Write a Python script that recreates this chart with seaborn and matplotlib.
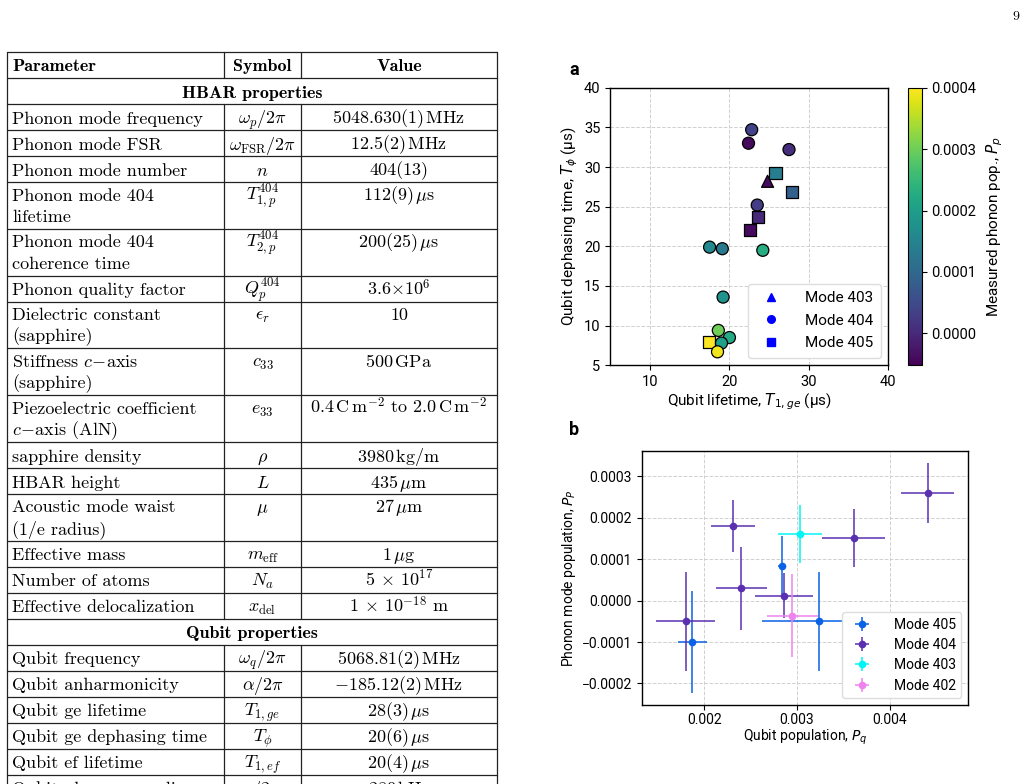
import numpy as np
import pandas as pd
import matplotlib
matplotlib.use("Agg")
import matplotlib.pyplot as plt
import seaborn as sns
from matplotlib.lines import Line2D
from matplotlib.colors import Normalize
from matplotlib.ticker import FuncFormatter, FixedLocator

# ---------------- Panel a data ----------------
t1_ge = [22.8, 22.4, 27.5, 25.8, 24.8, 27.9, 23.5, 23.6, 22.6, 17.5, 19.1, 24.2, 19.2, 18.6, 20.0, 17.4, 19.0, 18.5]
t_phi = [34.7, 33.0, 32.2, 29.3, 28.2, 26.8, 25.2, 23.7, 22.0, 19.9, 19.7, 19.5, 13.6, 9.4, 8.5, 7.9, 7.8, 6.7]
phonon_pop_a = [0.000038, -0.000040, 0.000007, 0.000140, -0.000038, 0.000084, 0.000030, 0.000000, -0.000038,
                0.000160, 0.000130, 0.000230, 0.000180, 0.000300, 0.000220, 0.000400, 0.000200, 0.000390]
mode_a = [404, 404, 404, 405, 403, 405, 404, 405, 405, 404, 404, 404, 404, 404, 404, 405, 404, 404]
legend_modes_a = [403, 404, 405]

# ---------------- Panel b data ----------------
mode_b = [405, 405, 405, 404, 404, 404, 404, 404, 404, 403, 402]
qubit_pop = [0.00187, 0.00284, 0.00324, 0.00180, 0.00231, 0.00240, 0.00286, 0.00361, 0.00441, 0.00303, 0.00295]
qubit_pop_err = [0.000157, 0.000045, 0.000613, 0.000317, 0.000236, 0.000279, 0.000310, 0.000342, 0.000284, 0.000237, 0.000279]
phonon_pop_b = [-0.000100, 0.0000844, -0.000050, -0.000050, 0.000180, 0.000030, 0.000012, 0.000150, 0.000260, 0.000160, -0.000037]
phonon_pop_b_err = [0.000124, 0.000071, 0.000119, 0.000119, 0.0000627, 0.000100, 0.000054, 0.000070, 0.0000727, 0.000070, 0.000100]
mode_order_b = [405, 404, 403, 402]
mode_colors_b = {405: "#0a62e6", 404: "#5a30b0", 403: "#00f5f5", 402: "#ee82ee"}

# ---------------- Table data ----------------
table_header = ["Parameter", "Symbol", "Value"]
hbar_title = "HBAR properties"
hbar_params = ["Phonon mode frequency", "Phonon mode FSR", "Phonon mode number",
               "Phonon mode 404\nlifetime", "Phonon mode 404\ncoherence time", "Phonon quality factor",
               "Dielectric constant\n(sapphire)", "Stiffness $c\\!-\\!$axis\n(sapphire)",
               "Piezoelectric coefficient\n$c\\!-\\!$axis (AlN)", "sapphire density", "HBAR height",
               "Acoustic mode waist\n(1/e radius)", "Effective mass", "Number of atoms",
               "Effective delocalization"]
hbar_symbols = [r"$\omega_p/2\pi$", r"$\omega_{\mathrm{FSR}}/2\pi$", r"$n$", r"$T_{1,p}^{404}$",
                r"$T_{2,p}^{404}$", r"$Q_p^{404}$", r"$\epsilon_r$", r"$c_{33}$", r"$e_{33}$",
                r"$\rho$", r"$L$", r"$\mu$", r"$m_{\mathrm{eff}}$", r"$N_a$", r"$x_{\mathrm{del}}$"]
hbar_values = [r"5048.630(1)$\,$MHz", r"12.5(2)$\,$MHz", "404(13)", r"112(9)$\,\mu$s", r"200(25)$\,\mu$s",
               r"3.6$\times$10$^{6}$", "10", r"500$\,$GPa", r"0.4$\,$C$\,$m$^{-2}$ to 2.0$\,$C$\,$m$^{-2}$",
               r"3980$\,$kg/m", r"435$\,\mu$m", r"27$\,\mu$m", r"1$\,\mu$g", r"5 $\times$ 10$^{17}$",
               r"1 $\times$ 10$^{-18}$ m"]
qubit_title = "Qubit properties"
qubit_params = ["Qubit frequency", "Qubit anharmonicity", "Qubit ge lifetime",
                "Qubit ge dephasing time", "Qubit ef lifetime", "Qubit-phonon coupling"]
qubit_symbols = [r"$\omega_q/2\pi$", r"$\alpha/2\pi$", r"$T_{1,ge}$", r"$T_\phi$", r"$T_{1,ef}$", r"$g/2\pi$"]
qubit_values = [r"5068.81(2)$\,$MHz", r"$-$185.12(2)$\,$MHz", r"28(3)$\,\mu$s", r"20(6)$\,\mu$s",
                r"20(4)$\,\mu$s", r"280$\,$kHz"]

# ---------------- Style ----------------
sns.set_theme(style="white")
chart_font = ["Roboto", "DejaVu Sans"]
plt.rcParams["font.family"] = chart_font
plt.rcParams["mathtext.fontset"] = "dejavusans"
plt.rcParams["axes.edgecolor"] = "black"
plt.rcParams["axes.linewidth"] = 1.0
plt.rcParams["xtick.bottom"] = True
plt.rcParams["ytick.left"] = True
plt.rcParams["xtick.color"] = "black"
plt.rcParams["ytick.color"] = "black"
plt.rcParams["text.color"] = "black"
plt.rcParams["axes.labelcolor"] = "black"

fig = plt.figure(figsize=(10.29, 7.84), dpi=100)
W, H = 1029, 784

def ax_rect(x0, y0, x1, y1):
    return [x0 / W, 1 - y1 / H, (x1 - x0) / W, (y1 - y0) / H]

grid_kw = dict(color="#d0d0d0", linestyle="--", linewidth=0.7)

# ---------------- Panel a ----------------
ax_a = fig.add_axes(ax_rect(610.3, 87.7, 888.3, 365.3))
cax = fig.add_axes(ax_rect(907.7, 87.7, 921.7, 365.3))
df_a = pd.DataFrame({"t1": t1_ge, "tphi": t_phi, "pp": phonon_pop_a, "mode": mode_a})
norm = Normalize(vmin=-0.000052, vmax=0.0004)
marker_map = {403: "^", 404: "o", 405: "s"}
ax_a.set_axisbelow(True)
ax_a.grid(True, **grid_kw)
sns.scatterplot(data=df_a, x="t1", y="tphi", hue="pp", palette="viridis", hue_norm=norm,
                style="mode", markers=marker_map, s=75, edgecolor="black", linewidth=0.9,
                legend=False, ax=ax_a, zorder=3)
ax_a.set_xlim(5, 40)
ax_a.set_ylim(5, 40)
ax_a.set_xticks([10, 20, 30, 40])
ax_a.set_yticks([5, 10, 15, 20, 25, 30, 35, 40])
ax_a.tick_params(labelsize=10.5, length=3.5, width=0.8)
ax_a.set_xlabel(r"Qubit lifetime, $T_{1,ge}$ (µs)", fontsize=11, labelpad=2)
ax_a.set_ylabel(r"Qubit dephasing time, $T_\phi$ (µs)", fontsize=11, labelpad=3)
handles_a = [Line2D([0], [0], marker=marker_map[m], color="blue", linestyle="", markersize=5.5)
             for m in legend_modes_a]
ax_a.legend(handles_a, [f"Mode {m}" for m in legend_modes_a], loc="lower right", fontsize=11,
            labelspacing=0.55, handletextpad=1.2, borderpad=0.5, framealpha=1, edgecolor="#dddddd")
sm = plt.cm.ScalarMappable(norm=norm, cmap="viridis")
cb = fig.colorbar(sm, cax=cax)
cb.set_ticks([0.0, 0.0001, 0.0002, 0.0003, 0.0004])
cb.ax.yaxis.set_major_formatter(FuncFormatter(lambda v, p: f"{v:.4f}"))
cb.ax.tick_params(labelsize=10.5, length=3.5, width=0.8)
cb.outline.set_linewidth(0.8)
cb.set_label(r"Measured phonon pop., $P_p$", fontsize=11, labelpad=6)
fig.text(569 / W, 1 - 75 / H, "a", fontsize=13, fontweight="bold")

# ---------------- Panel b ----------------
ax_b = fig.add_axes(ax_rect(641.7, 451, 968.3, 705))
ax_b.set_axisbelow(True)
ax_b.grid(True, **grid_kw)
df_b = pd.DataFrame({"pq": qubit_pop, "pq_err": qubit_pop_err, "pp": phonon_pop_b,
                     "pp_err": phonon_pop_b_err, "mode": mode_b})
for m in mode_order_b:
    d = df_b[df_b["mode"] == m]
    ax_b.errorbar(d["pq"], d["pp"], xerr=d["pq_err"], yerr=d["pp_err"], fmt="o", ms=4.5,
                  color=mode_colors_b[m], ecolor=mode_colors_b[m], elinewidth=1.1, capsize=0,
                  label=f"Mode {m}", zorder=3)
ax_b.set_xlim(0.001324, 0.004849)
ax_b.set_ylim(-0.000252, 0.000361)
ax_b.xaxis.set_major_locator(FixedLocator([0.002, 0.003, 0.004]))
ax_b.yaxis.set_major_locator(FixedLocator([-0.0002, -0.0001, 0.0, 0.0001, 0.0002, 0.0003]))
ax_b.xaxis.set_major_formatter(FuncFormatter(lambda v, p: f"{v:.3f}".replace("-", "\u2212")))
ax_b.yaxis.set_major_formatter(FuncFormatter(lambda v, p: f"{v:.4f}".replace("-", "\u2212")))
ax_b.tick_params(labelsize=10, length=3.5, width=0.8)
ax_b.tick_params(axis="x", pad=2)
ax_b.set_xlabel(r"Qubit population, $P_q$", fontsize=10, labelpad=1)
ax_b.set_ylabel(r"Phonon mode population, $P_P$", fontsize=10, labelpad=3)
ax_b.legend(loc="lower right", fontsize=10, labelspacing=0.45, handletextpad=1.3,
            borderpad=0.4, framealpha=1, edgecolor="#dddddd")
fig.text(569 / W, 1 - 435 / H, "b", fontsize=13, fontweight="bold")

# ---------------- Table ----------------
tab = fig.add_axes([0, 0, 1, 1], zorder=-1)
tab.set_xlim(0, W)
tab.set_ylim(H, 0)
tab.axis("off")
serif = ["cmr10", "DejaVu Serif"]
bold = ["cmb10", "DejaVu Serif"]
fs = 13
X0, XC1, XC2, X1 = 7, 224, 301, 497
lc = "#222222"
lw = 0.9

def txt(x, y, s, ha="left", fam=serif):
    tab.text(x, y, s, ha=ha, va="baseline", fontsize=fs, family=fam, math_fontfamily="cm",
             color="black")

rows = [("header", table_header), ("section", hbar_title)]
rows += [("row", (p, s, v)) for p, s, v in zip(hbar_params, hbar_symbols, hbar_values)]
rows += [("section", qubit_title)]
rows += [("row", (p, s, v)) for p, s, v in zip(qubit_params, qubit_symbols, qubit_values)]

y = 52.0
tab.plot([X0, X1], [y, y], color=lc, lw=lw)
for kind, content in rows:
    if kind == "header":
        h = 26.0
        txt(12, y + 19, content[0], fam=bold)
        txt((XC1 + XC2) / 2, y + 19, content[1], ha="center", fam=bold)
        txt((XC2 + X1) / 2, y + 19, content[2], ha="center", fam=bold)
        split = True
    elif kind == "section":
        h = 26.0
        txt((X0 + X1) / 2, y + 19.5, content, ha="center", fam=bold)
        split = False
    else:
        p, s, v = content
        lines = p.split("\n")
        h = 26.0 if len(lines) == 1 else 46.8
        base = y + (19.5 if len(lines) == 1 else 18.5)
        for i, ln in enumerate(lines):
            txt(12, base + 21.5 * i, ln)
        txt((XC1 + XC2) / 2, base, s, ha="center")
        txt((XC2 + X1) / 2, base, v, ha="center")
        split = True
    if split:
        for xc in (XC1, XC2):
            tab.plot([xc, xc], [y, y + h], color=lc, lw=lw)
    tab.plot([X0, X0], [y, y + h], color=lc, lw=lw)
    tab.plot([X1, X1], [y, y + h], color=lc, lw=lw)
    y += h
    tab.plot([X0, X1], [y, y], color=lc, lw=lw)

fig.text(1012 / W, 1 - 20 / H, "9", fontsize=10, family=serif)

fig.savefig("out.png", dpi=100)
